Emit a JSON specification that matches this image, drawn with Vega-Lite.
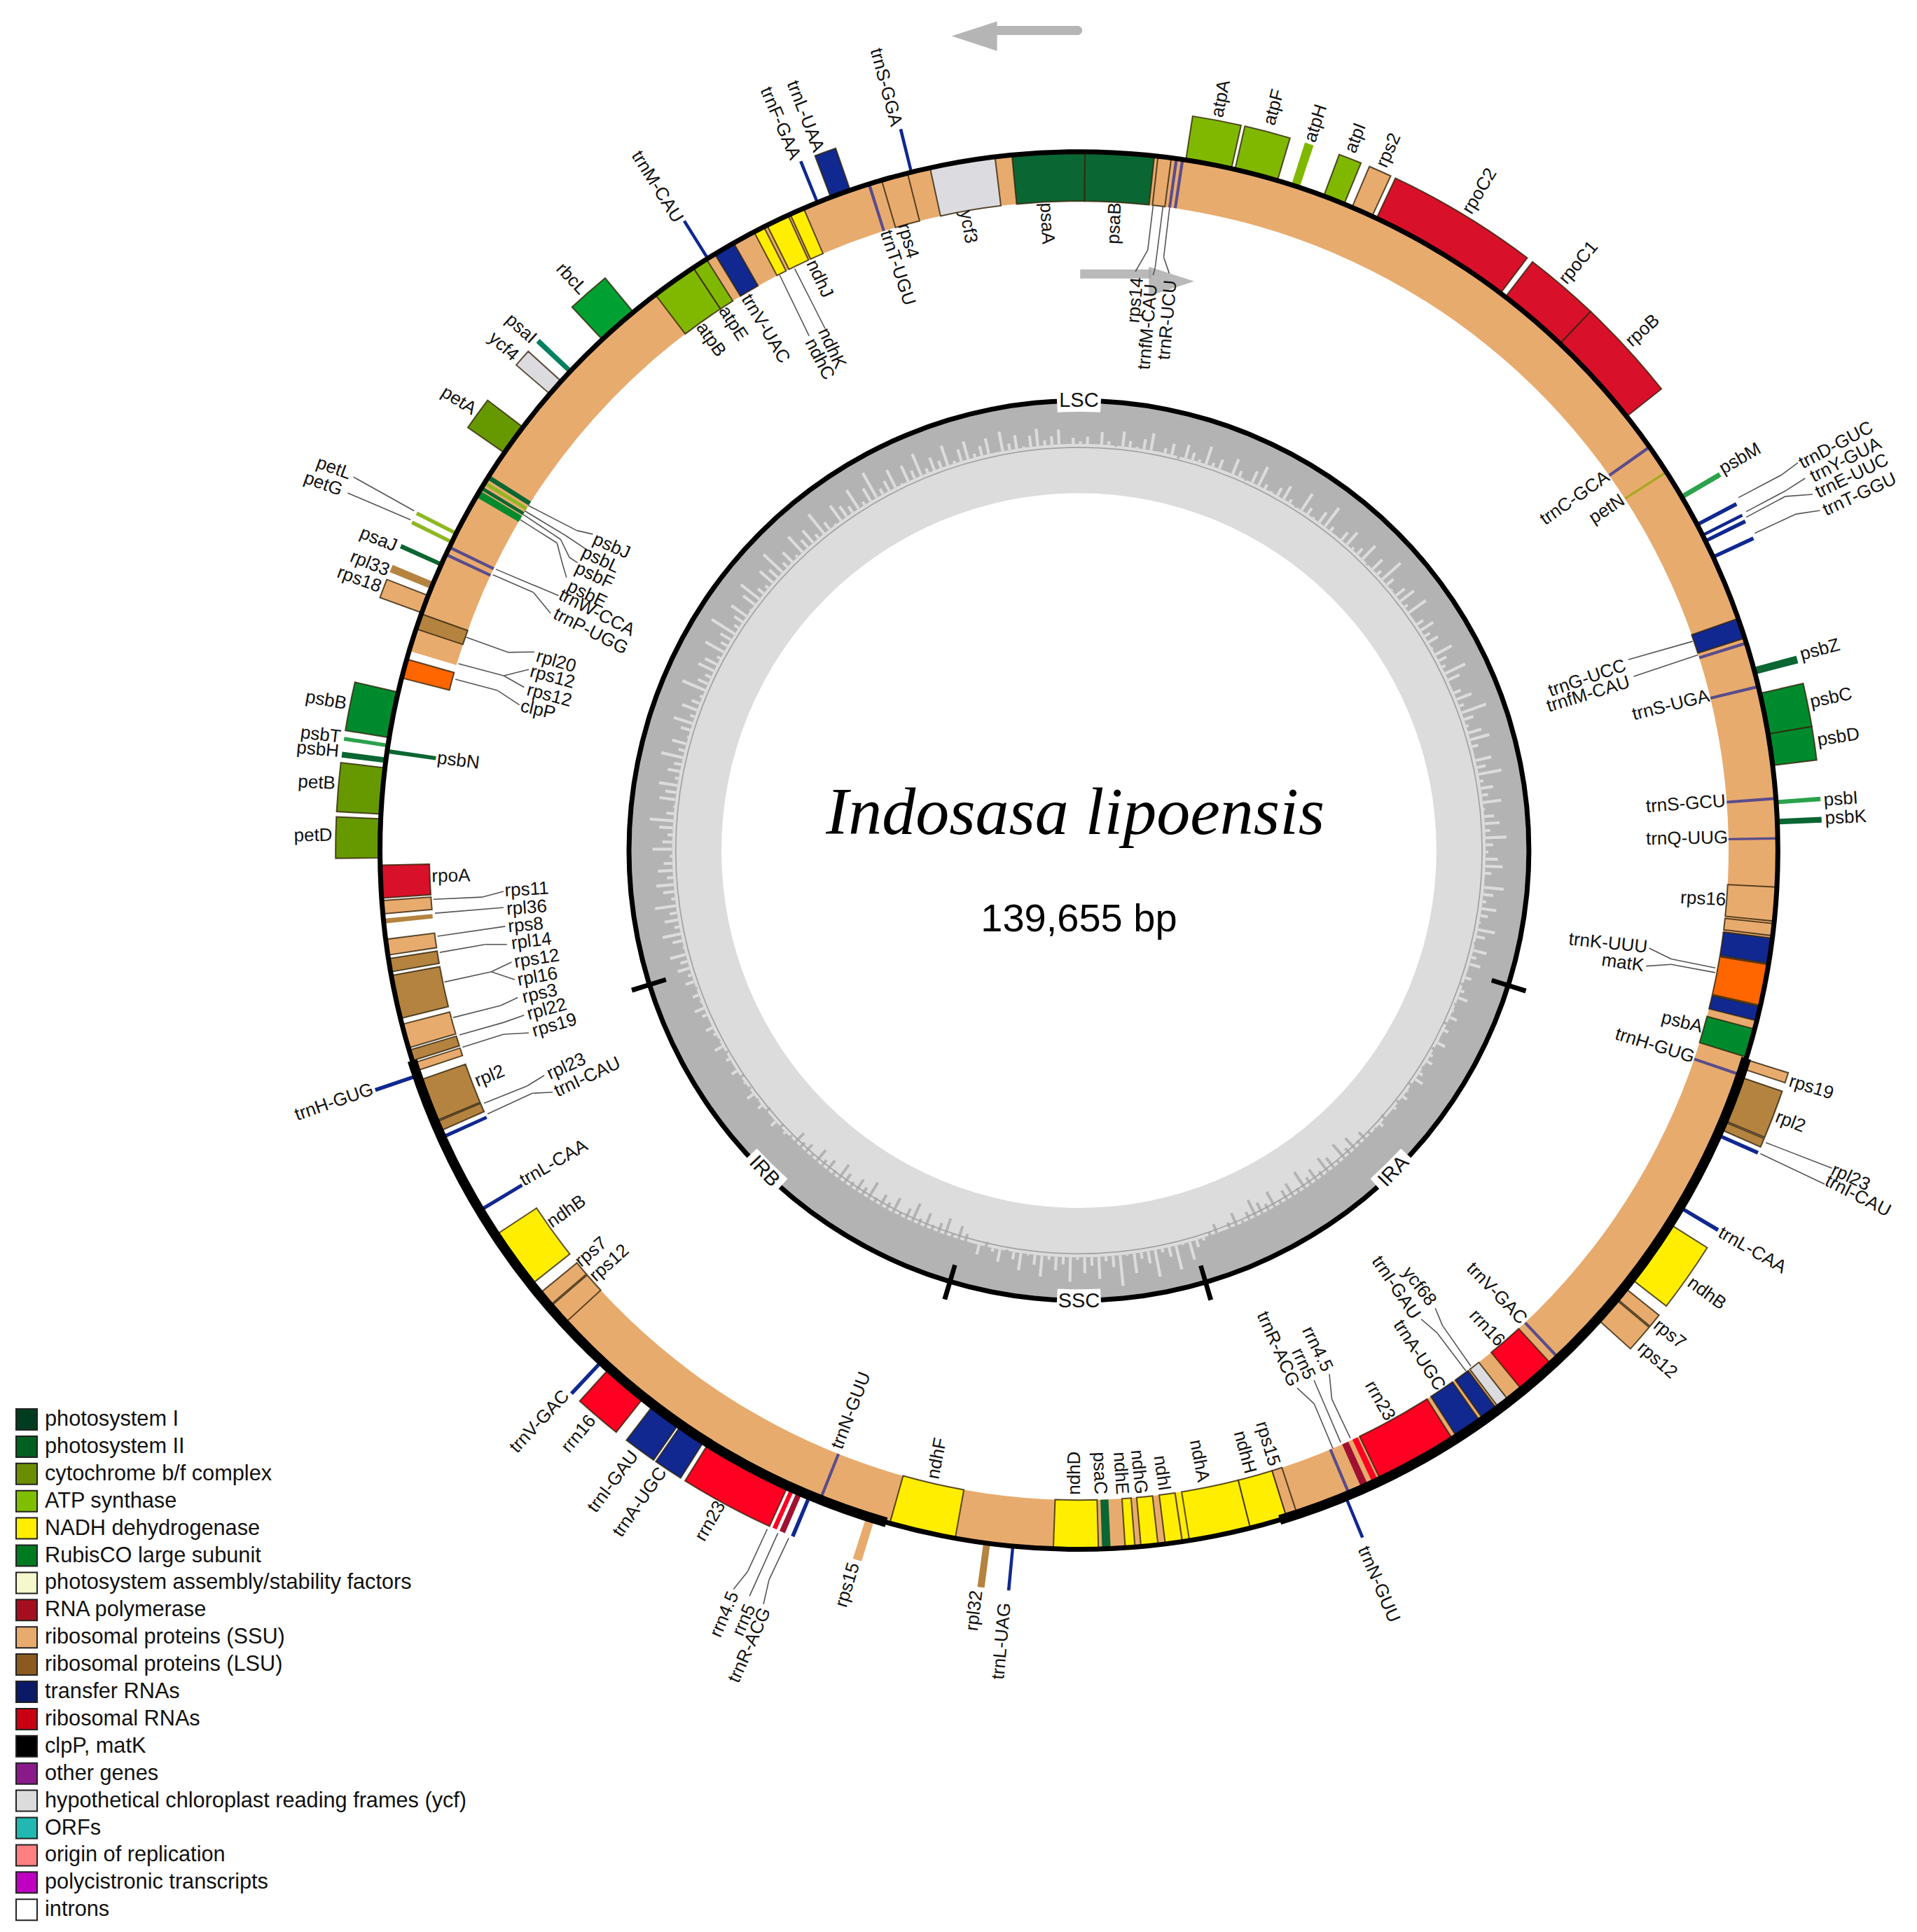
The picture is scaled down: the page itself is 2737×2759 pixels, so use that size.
{"$schema":"https://vega.github.io/schema/vega-lite/v6.json","width":2737,"height":2759,"padding":0,"autosize":{"type":"none"},"background":"white","config":{"view":{"stroke":null},"axis":{"disable":true}},
"datasets":{
"disc":[{"group":"light","a":0,"b":360,"r0":290,"r1":363},{"group":"dark","a":0,"b":360,"r0":330,"r1":363}],
"rings":[{"group":"mid","a":0,"b":360,"r0":326.6,"r1":327.6},{"group":"black","a":0,"b":360,"r0":363,"r1":367},{"group":"black","a":107.15,"b":107.75,"r0":351,"r1":380},{"group":"black","a":252.35,"b":252.95,"r0":351,"r1":380},{"group":"black","a":163.35,"b":163.95,"r0":351,"r1":380},{"group":"black","a":196.35,"b":196.95,"r0":351,"r1":380},{"group":"white","a":357.2,"b":362.8,"r0":356,"r1":374},{"group":"white","a":177.2,"b":182.8,"r0":356,"r1":374},{"group":"white","a":132.8,"b":138.4,"r0":356,"r1":374},{"group":"white","a":221.6,"b":227.2,"r0":356,"r1":374},{"group":"tan","a":286.6,"b":360,"r0":527,"r1":566},{"group":"tan","a":0,"b":227.4,"r0":527,"r1":566}],
"outline":[{"group":"black","a":0,"b":360,"r0":565,"r1":569},{"group":"black","a":107.3,"b":163.3,"r0":563,"r1":571},{"group":"black","a":196,"b":252.5,"r0":563,"r1":571}],
"gc":[{"a":0,"b":0.4,"g":332},{"a":1,"b":1.4,"g":336},{"a":2,"b":2.4,"g":330},{"a":3,"b":3.4,"g":340},{"a":4,"b":4.4,"g":333},{"a":5,"b":5.4,"g":329},{"a":6,"b":6.4,"g":342},{"a":7,"b":7.4,"g":335},{"a":8,"b":8.4,"g":331},{"a":9,"b":9.4,"g":338},{"a":10,"b":10.4,"g":344},{"a":11,"b":11.4,"g":330},{"a":12,"b":12.4,"g":334},{"a":13,"b":13.4,"g":339},{"a":14,"b":14.4,"g":328},{"a":15,"b":15.4,"g":341},{"a":16,"b":16.4,"g":336},{"a":17,"b":17.4,"g":332},{"a":18,"b":18.4,"g":345},{"a":19,"b":19.4,"g":333},{"a":20,"b":20.4,"g":338},{"a":21,"b":21.4,"g":330},{"a":22,"b":22.4,"g":343},{"a":23,"b":23.4,"g":335},{"a":24,"b":24.4,"g":329},{"a":25,"b":25.4,"g":340},{"a":26,"b":26.4,"g":347},{"a":27,"b":27.4,"g":334},{"a":28,"b":28.4,"g":331},{"a":29,"b":29.4,"g":337},{"a":30,"b":30.4,"g":342},{"a":31,"b":31.4,"g":333},{"a":32,"b":32.4,"g":329},{"a":33,"b":33.4,"g":346},{"a":34,"b":34.4,"g":336},{"a":35,"b":35.4,"g":331},{"a":36,"b":36.4,"g":340},{"a":37,"b":37.4,"g":349},{"a":38,"b":38.4,"g":334},{"a":39,"b":39.4,"g":330},{"a":40,"b":40.4,"g":338},{"a":41,"b":41.4,"g":343},{"a":42,"b":42.4,"g":332},{"a":43,"b":43.4,"g":336},{"a":44,"b":44.4,"g":345},{"a":45,"b":45.4,"g":329},{"a":46,"b":46.4,"g":341},{"a":47,"b":47.4,"g":334},{"a":48,"b":48.4,"g":350},{"a":49,"b":49.4,"g":337},{"a":50,"b":50.4,"g":331},{"a":51,"b":51.4,"g":339},{"a":52,"b":52.4,"g":344},{"a":53,"b":53.4,"g":333},{"a":54,"b":54.4,"g":347},{"a":55,"b":55.4,"g":330},{"a":56,"b":56.4,"g":336},{"a":57,"b":57.4,"g":342},{"a":58,"b":58.4,"g":335},{"a":59,"b":59.4,"g":339},{"a":60,"b":60.4,"g":331},{"a":61,"b":61.4,"g":345},{"a":62,"b":62.4,"g":337},{"a":63,"b":63.4,"g":333},{"a":64,"b":64.4,"g":348},{"a":65,"b":65.4,"g":340},{"a":66,"b":66.4,"g":330},{"a":67,"b":67.4,"g":336},{"a":68,"b":68.4,"g":343},{"a":69,"b":69.4,"g":334},{"a":70,"b":70.4,"g":351},{"a":71,"b":71.4,"g":338},{"a":72,"b":72.4,"g":332},{"a":73,"b":73.4,"g":341},{"a":74,"b":74.4,"g":346},{"a":75,"b":75.4,"g":335},{"a":76,"b":76.4,"g":330},{"a":77,"b":77.4,"g":343},{"a":78,"b":78.4,"g":337},{"a":79,"b":79.4,"g":349},{"a":80,"b":80.4,"g":333},{"a":81,"b":81.4,"g":340},{"a":82,"b":82.4,"g":335},{"a":83,"b":83.4,"g":345},{"a":84,"b":84.4,"g":331},{"a":85,"b":85.4,"g":338},{"a":86,"b":86.4,"g":342},{"a":87,"b":87.4,"g":334},{"a":88,"b":88.4,"g":347},{"a":89,"b":89.4,"g":336},{"a":90,"b":90.4,"g":332},{"a":91,"b":91.4,"g":340},{"a":92,"b":92.4,"g":344},{"a":93,"b":93.4,"g":335},{"a":94,"b":94.4,"g":330},{"a":95,"b":95.4,"g":346},{"a":96,"b":96.4,"g":338},{"a":97,"b":97.4,"g":333},{"a":98,"b":98.4,"g":342},{"a":99,"b":99.4,"g":336},{"a":100,"b":100.4,"g":331},{"a":101,"b":101.4,"g":344},{"a":102,"b":102.4,"g":337},{"a":103,"b":103.4,"g":329},{"a":104,"b":104.4,"g":341},{"a":105,"b":105.4,"g":334},{"a":106,"b":106.4,"g":339},{"a":107,"b":107.4,"g":330},{"a":108,"b":108.4,"g":335},{"a":109,"b":109.4,"g":328},{"a":110,"b":110.4,"g":333},{"a":111,"b":111.4,"g":338},{"a":112,"b":112.4,"g":329},{"a":113,"b":113.4,"g":331},{"a":114,"b":114.4,"g":336},{"a":115,"b":115.4,"g":327},{"a":116,"b":116.4,"g":334},{"a":117,"b":117.4,"g":330},{"a":118,"b":118.4,"g":337},{"a":119,"b":119.4,"g":328},{"a":120,"b":120.4,"g":332},{"a":121,"b":121.4,"g":335},{"a":122,"b":122.4,"g":329},{"a":123,"b":123.4,"g":333},{"a":124,"b":124.4,"g":337},{"a":125,"b":125.4,"g":327},{"a":126,"b":126.4,"g":331},{"a":127,"b":127.4,"g":334},{"a":128,"b":128.4,"g":328},{"a":129,"b":129.4,"g":332},{"a":130,"b":130.4,"g":330},{"a":131,"b":131.4,"g":326},{"a":132,"b":132.4,"g":333},{"a":133,"b":133.4,"g":329},{"a":134,"b":134.4,"g":327},{"a":135,"b":135.4,"g":322},{"a":136,"b":136.4,"g":326},{"a":137,"b":137.4,"g":318},{"a":138,"b":138.4,"g":324},{"a":139,"b":139.4,"g":315},{"a":140,"b":140.4,"g":327},{"a":141,"b":141.4,"g":320},{"a":142,"b":142.4,"g":316},{"a":143,"b":143.4,"g":325},{"a":144,"b":144.4,"g":319},{"a":145,"b":145.4,"g":323},{"a":146,"b":146.4,"g":314},{"a":147,"b":147.4,"g":326},{"a":148,"b":148.4,"g":318},{"a":149,"b":149.4,"g":321},{"a":150,"b":150.4,"g":327},{"a":151,"b":151.4,"g":316},{"a":152,"b":152.4,"g":324},{"a":153,"b":153.4,"g":320},{"a":154,"b":154.4,"g":315},{"a":155,"b":155.4,"g":323},{"a":156,"b":156.4,"g":328},{"a":157,"b":157.4,"g":319},{"a":158,"b":158.4,"g":325},{"a":159,"b":159.4,"g":330},{"a":160,"b":160.4,"g":322},{"a":161,"b":161.4,"g":327},{"a":162,"b":162.4,"g":332},{"a":163,"b":163.4,"g":336},{"a":164,"b":164.4,"g":345},{"a":165,"b":165.4,"g":331},{"a":166,"b":166.4,"g":350},{"a":167,"b":167.4,"g":338},{"a":168,"b":168.4,"g":333},{"a":169,"b":169.4,"g":352},{"a":170,"b":170.4,"g":340},{"a":171,"b":171.4,"g":335},{"a":172,"b":172.4,"g":346},{"a":173,"b":173.4,"g":331},{"a":174,"b":174.4,"g":355},{"a":175,"b":175.4,"g":339},{"a":176,"b":176.4,"g":334},{"a":177,"b":177.4,"g":348},{"a":178,"b":178.4,"g":337},{"a":179,"b":179.4,"g":343},{"a":180,"b":180.4,"g":332},{"a":181,"b":181.4,"g":350},{"a":182,"b":182.4,"g":336},{"a":183,"b":183.4,"g":341},{"a":184,"b":184.4,"g":333},{"a":185,"b":185.4,"g":347},{"a":186,"b":186.4,"g":338},{"a":187,"b":187.4,"g":331},{"a":188,"b":188.4,"g":344},{"a":189,"b":189.4,"g":336},{"a":190,"b":190.4,"g":329},{"a":191,"b":191.4,"g":340},{"a":192,"b":192.4,"g":333},{"a":193,"b":193.4,"g":326},{"a":194,"b":194.4,"g":338},{"a":195,"b":195.4,"g":330},{"a":196,"b":196.4,"g":324},{"a":197,"b":197.4,"g":319},{"a":198,"b":198.4,"g":327},{"a":199,"b":199.4,"g":316},{"a":200,"b":200.4,"g":322},{"a":201,"b":201.4,"g":326},{"a":202,"b":202.4,"g":318},{"a":203,"b":203.4,"g":325},{"a":204,"b":204.4,"g":314},{"a":205,"b":205.4,"g":321},{"a":206,"b":206.4,"g":327},{"a":207,"b":207.4,"g":317},{"a":208,"b":208.4,"g":324},{"a":209,"b":209.4,"g":320},{"a":210,"b":210.4,"g":326},{"a":211,"b":211.4,"g":315},{"a":212,"b":212.4,"g":323},{"a":213,"b":213.4,"g":319},{"a":214,"b":214.4,"g":325},{"a":215,"b":215.4,"g":321},{"a":216,"b":216.4,"g":316},{"a":217,"b":217.4,"g":326},{"a":218,"b":218.4,"g":320},{"a":219,"b":219.4,"g":324},{"a":220,"b":220.4,"g":318},{"a":221,"b":221.4,"g":327},{"a":222,"b":222.4,"g":322},{"a":223,"b":223.4,"g":325},{"a":224,"b":224.4,"g":320},{"a":225,"b":225.4,"g":328},{"a":226,"b":226.4,"g":332},{"a":227,"b":227.4,"g":327},{"a":228,"b":228.4,"g":335},{"a":229,"b":229.4,"g":330},{"a":230,"b":230.4,"g":326},{"a":231,"b":231.4,"g":334},{"a":232,"b":232.4,"g":329},{"a":233,"b":233.4,"g":336},{"a":234,"b":234.4,"g":328},{"a":235,"b":235.4,"g":331},{"a":236,"b":236.4,"g":327},{"a":237,"b":237.4,"g":335},{"a":238,"b":238.4,"g":330},{"a":239,"b":239.4,"g":333},{"a":240,"b":240.4,"g":328},{"a":241,"b":241.4,"g":337},{"a":242,"b":242.4,"g":329},{"a":243,"b":243.4,"g":332},{"a":244,"b":244.4,"g":336},{"a":245,"b":245.4,"g":330},{"a":246,"b":246.4,"g":334},{"a":247,"b":247.4,"g":338},{"a":248,"b":248.4,"g":331},{"a":249,"b":249.4,"g":335},{"a":250,"b":250.4,"g":329},{"a":251,"b":251.4,"g":337},{"a":252,"b":252.4,"g":333},{"a":253,"b":253.4,"g":340},{"a":254,"b":254.4,"g":336},{"a":255,"b":255.4,"g":343},{"a":256,"b":256.4,"g":331},{"a":257,"b":257.4,"g":338},{"a":258,"b":258.4,"g":345},{"a":259,"b":259.4,"g":334},{"a":260,"b":260.4,"g":341},{"a":261,"b":261.4,"g":336},{"a":262,"b":262.4,"g":347},{"a":263,"b":263.4,"g":333},{"a":264,"b":264.4,"g":339},{"a":265,"b":265.4,"g":344},{"a":266,"b":266.4,"g":335},{"a":267,"b":267.4,"g":342},{"a":268,"b":268.4,"g":337},{"a":269,"b":269.4,"g":332},{"a":270,"b":270.4,"g":346},{"a":271,"b":271.4,"g":338},{"a":272,"b":272.4,"g":334},{"a":273,"b":273.4,"g":341},{"a":274,"b":274.4,"g":349},{"a":275,"b":275.4,"g":336},{"a":276,"b":276.4,"g":331},{"a":277,"b":277.4,"g":343},{"a":278,"b":278.4,"g":339},{"a":279,"b":279.4,"g":345},{"a":280,"b":280.4,"g":333},{"a":281,"b":281.4,"g":340},{"a":282,"b":282.4,"g":336},{"a":283,"b":283.4,"g":348},{"a":284,"b":284.4,"g":335},{"a":285,"b":285.4,"g":342},{"a":286,"b":286.4,"g":331},{"a":287,"b":287.4,"g":338},{"a":288,"b":288.4,"g":346},{"a":289,"b":289.4,"g":334},{"a":290,"b":290.4,"g":343},{"a":291,"b":291.4,"g":337},{"a":292,"b":292.4,"g":332},{"a":293,"b":293.4,"g":350},{"a":294,"b":294.4,"g":339},{"a":295,"b":295.4,"g":335},{"a":296,"b":296.4,"g":344},{"a":297,"b":297.4,"g":341},{"a":298,"b":298.4,"g":333},{"a":299,"b":299.4,"g":347},{"a":300,"b":300.4,"g":336},{"a":301,"b":301.4,"g":340},{"a":302,"b":302.4,"g":352},{"a":303,"b":303.4,"g":334},{"a":304,"b":304.4,"g":338},{"a":305,"b":305.4,"g":345},{"a":306,"b":306.4,"g":331},{"a":307,"b":307.4,"g":342},{"a":308,"b":308.4,"g":349},{"a":309,"b":309.4,"g":336},{"a":310,"b":310.4,"g":333},{"a":311,"b":311.4,"g":344},{"a":312,"b":312.4,"g":339},{"a":313,"b":313.4,"g":351},{"a":314,"b":314.4,"g":335},{"a":315,"b":315.4,"g":341},{"a":316,"b":316.4,"g":332},{"a":317,"b":317.4,"g":347},{"a":318,"b":318.4,"g":338},{"a":319,"b":319.4,"g":343},{"a":320,"b":320.4,"g":334},{"a":321,"b":321.4,"g":350},{"a":322,"b":322.4,"g":337},{"a":323,"b":323.4,"g":331},{"a":324,"b":324.4,"g":345},{"a":325,"b":325.4,"g":340},{"a":326,"b":326.4,"g":336},{"a":327,"b":327.4,"g":348},{"a":328,"b":328.4,"g":333},{"a":329,"b":329.4,"g":342},{"a":330,"b":330.4,"g":353},{"a":331,"b":331.4,"g":335},{"a":332,"b":332.4,"g":339},{"a":333,"b":333.4,"g":346},{"a":334,"b":334.4,"g":331},{"a":335,"b":335.4,"g":344},{"a":336,"b":336.4,"g":337},{"a":337,"b":337.4,"g":349},{"a":338,"b":338.4,"g":334},{"a":339,"b":339.4,"g":341},{"a":340,"b":340.4,"g":336},{"a":341,"b":341.4,"g":347},{"a":342,"b":342.4,"g":332},{"a":343,"b":343.4,"g":340},{"a":344,"b":344.4,"g":345},{"a":345,"b":345.4,"g":333},{"a":346,"b":346.4,"g":338},{"a":347,"b":347.4,"g":343},{"a":348,"b":348.4,"g":330},{"a":349,"b":349.4,"g":346},{"a":350,"b":350.4,"g":335},{"a":351,"b":351.4,"g":341},{"a":352,"b":352.4,"g":331},{"a":353,"b":353.4,"g":339},{"a":354,"b":354.4,"g":344},{"a":355,"b":355.4,"g":334},{"a":356,"b":356.4,"g":337},{"a":357,"b":357.4,"g":342},{"a":358,"b":358.4,"g":330},{"a":359,"b":359.4,"g":335}],
"genes":[
{"gene":"psaA","side":"in","group":"PSI","a":354.5,"b":360.5},{"gene":"psaB","side":"in","group":"PSI","a":0.5,"b":6.2},{"gene":"rps14","side":"in","group":"SSU","a":6.5,"b":7.6},{"gene":"trnfM-CAU","side":"in","group":"tin","a":7.9,"b":8.15},{"gene":"trnR-UCU","side":"in","group":"tin","a":8.4,"b":8.65},{"gene":"ycf3","side":"in","group":"ycf","a":347.7,"b":353.1},{"gene":"rps4","side":"in","group":"SSU","a":343.6,"b":345.8},{"gene":"trnT-UGU","side":"in","group":"tin","a":342.4,"b":342.65},{"gene":"ndhC","side":"in","group":"NADH","a":332.3,"b":333.2},{"gene":"ndhK","side":"in","group":"NADH","a":333.5,"b":335.4},{"gene":"ndhJ","side":"in","group":"NADH","a":335.6,"b":336.8},{"gene":"trnV-UAC","side":"in","group":"tRNA","a":328.6,"b":330.4},{"gene":"atpE","side":"in","group":"ATP","a":326.5,"b":327.8},{"gene":"atpB","side":"in","group":"ATP","a":322.7,"b":326.5},{"gene":"psbJ","side":"in","group":"PSI","a":302.1,"b":302.5},{"gene":"psbL","side":"in","group":"pl","a":301.6,"b":301.9},{"gene":"psbF","side":"in","group":"PSI","a":301.1,"b":301.4},{"gene":"psbE","side":"in","group":"PSII","a":300.4,"b":301},{"gene":"trnW-CCA","side":"in","group":"tin","a":295.6,"b":295.85},{"gene":"trnP-UGG","side":"in","group":"tin","a":294.95,"b":295.2},{"gene":"rpl20","side":"in","group":"LSU","a":288.5,"b":289.8},{"gene":"clpP","side":"in","group":"clp","a":284.3,"b":285.9},{"gene":"psbN","side":"in","group":"PSI","a":278,"b":278.35},{"gene":"rpoA","side":"in","group":"RNAP","a":266.1,"b":268.8},{"gene":"rps11","side":"in","group":"SSU","a":264.8,"b":265.9},{"gene":"rpl36","side":"in","group":"LSU","a":264,"b":264.4},{"gene":"rps8","side":"in","group":"SSU","a":261.4,"b":262.7},{"gene":"rpl14","side":"in","group":"LSU","a":260,"b":261.1},{"gene":"rpl16","side":"in","group":"LSU","a":256.1,"b":259.7},{"gene":"rps3","side":"in","group":"SSU","a":253.6,"b":255.6},{"gene":"rpl22","side":"in","group":"LSU","a":252.5,"b":253.4},{"gene":"rps19","side":"in","group":"SSU","a":251.6,"b":252.3},{"gene":"rpl2","side":"in","group":"LSU","a":247.2,"b":250.8},{"gene":"rpl23","side":"in","group":"LSU","a":246.3,"b":247.1},{"gene":"trnI-CAU","side":"in","group":"tRNA","a":245.6,"b":245.9},{"gene":"trnL-CAA","side":"in","group":"tRNA","a":238.85,"b":239.15},{"gene":"ndhB","side":"in","group":"NADH","a":231.6,"b":236.6},{"gene":"rps7","side":"in","group":"SSU","a":229.3,"b":230.6},{"gene":"rps12","side":"in","group":"SSU","a":227.4,"b":229.2},{"gene":"trnN-GUU","side":"in","group":"tin","a":201.6,"b":201.85},{"gene":"ndhF","side":"in","group":"NADH","a":190.2,"b":195.7},{"gene":"ndhD","side":"in","group":"NADH","a":178.4,"b":182.1},{"gene":"psaC","side":"in","group":"PSI","a":177.4,"b":178.1},{"gene":"ndhE","side":"in","group":"NADH","a":175.4,"b":176.2},{"gene":"ndhG","side":"in","group":"NADH","a":173.5,"b":174.9},{"gene":"ndhI","side":"in","group":"NADH","a":171.5,"b":172.9},{"gene":"ndhA","side":"in","group":"NADH","a":170.9,"b":171.4},{"gene":"ndhA","side":"in","group":"NADH","a":165.8,"b":170.9},{"gene":"ndhH","side":"in","group":"NADH","a":162.7,"b":165.8},{"gene":"rps15","side":"in","group":"SSU","a":161.8,"b":162.7},{"gene":"trnR-ACG","side":"in","group":"tin","a":157.1,"b":157.35},{"gene":"rrn5","side":"in","group":"r5","a":155.5,"b":156.1},{"gene":"rrn4.5","side":"in","group":"rRNA","a":154.6,"b":155.1},{"gene":"rrn23","side":"in","group":"rRNA","a":147.6,"b":154.4},{"gene":"trnA-UGC","side":"in","group":"tRNA","a":144.9,"b":147.2},{"gene":"trnI-GAU","side":"in","group":"tRNA","a":143.2,"b":144.6},{"gene":"ycf68","side":"in","group":"ycf","a":142,"b":143},{"gene":"rrn16","side":"in","group":"rRNA","a":137.4,"b":140.6},{"gene":"trnV-GAC","side":"in","group":"tin","a":136.5,"b":136.75},{"gene":"trnH-GUG","side":"in","group":"tin","a":108.6,"b":108.85},{"gene":"psbA","side":"in","group":"PSII","a":104.8,"b":107.2},{"gene":"trnK-UUU","side":"in","group":"tRNA","a":102.9,"b":104.1},{"gene":"matK","side":"in","group":"clp","a":99.4,"b":102.8},{"gene":"trnK-UUU","side":"in","group":"tRNA","a":97.2,"b":99.3},{"gene":"rps16","side":"in","group":"SSU","a":96,"b":97},{"gene":"rps16","side":"in","group":"SSU","a":93,"b":95.8},{"gene":"trnQ-UUG","side":"in","group":"tin","a":88.9,"b":89.1},{"gene":"trnS-GCU","side":"in","group":"tin","a":85.6,"b":85.85},{"gene":"trnS-UGA","side":"in","group":"tin","a":76.3,"b":76.55},{"gene":"trnfM-CAU","side":"in","group":"tin","a":72.6,"b":72.85},{"gene":"trnG-UCC","side":"in","group":"tRNA","a":70.6,"b":72.3},{"gene":"trnC-GCA","side":"in","group":"tin","a":54.6,"b":54.85},{"gene":"petN","side":"in","group":"pn","a":57.1,"b":57.3},
{"gene":"atpA","side":"out","group":"ATP","a":8.8,"b":12.6},{"gene":"atpF","side":"out","group":"ATP","a":12.9,"b":16.5},{"gene":"atpH","side":"out","group":"ATP","a":17.7,"b":18.4},{"gene":"atpI","side":"out","group":"ATP","a":20.5,"b":22.3},{"gene":"rps2","side":"out","group":"SSU","a":23,"b":24.8},{"gene":"rpoC2","side":"out","group":"RNAP","a":25.2,"b":37.1},{"gene":"rpoC1","side":"out","group":"RNAP","a":37.6,"b":43.5},{"gene":"rpoB","side":"out","group":"RNAP","a":43.5,"b":51.6},{"gene":"psbM","side":"out","group":"psl","a":59.4,"b":59.8},{"gene":"trnD-GUC","side":"out","group":"tRNA","a":62.05,"b":62.35},{"gene":"trnY-GUA","side":"out","group":"tRNA","a":63.05,"b":63.3},{"gene":"trnE-UUC","side":"out","group":"tRNA","a":63.55,"b":63.85},{"gene":"trnT-GGU","side":"out","group":"tRNA","a":65,"b":65.3},{"gene":"psbZ","side":"out","group":"PSI","a":74.8,"b":75.4},{"gene":"psbC","side":"out","group":"PSII","a":77,"b":80.4},{"gene":"psbD","side":"out","group":"PSII","a":80.4,"b":83},{"gene":"psbI","side":"out","group":"psl","a":85.85,"b":86.2},{"gene":"psbK","side":"out","group":"PSI","a":87.4,"b":87.85},{"gene":"rps19","side":"out","group":"SSU","a":107.4,"b":108.2},{"gene":"rpl2","side":"out","group":"LSU","a":108.9,"b":112.7},{"gene":"rpl23","side":"out","group":"LSU","a":112.8,"b":113.5},{"gene":"trnI-CAU","side":"out","group":"tRNA","a":113.85,"b":114.15},{"gene":"trnL-CAA","side":"out","group":"tRNA","a":120.55,"b":120.85},{"gene":"ndhB","side":"out","group":"NADH","a":122.3,"b":127.8},{"gene":"rps7","side":"out","group":"SSU","a":128.7,"b":129.8},{"gene":"rps12","side":"out","group":"SSU","a":129.9,"b":132.1},{"gene":"trnN-GUU","side":"out","group":"tRNA","a":157.45,"b":157.7},{"gene":"trnL-UAG","side":"out","group":"tRNA","a":185.3,"b":185.55},{"gene":"rpl32","side":"out","group":"LSU","a":187.3,"b":187.85},{"gene":"rps15","side":"out","group":"SSU","a":197,"b":197.7},{"gene":"trnR-ACG","side":"out","group":"tRNA","a":202.5,"b":202.8},{"gene":"rrn5","side":"out","group":"r5","a":203.3,"b":203.75},{"gene":"rrn4.5","side":"out","group":"rRNA","a":204,"b":204.35},{"gene":"rrn23","side":"out","group":"rRNA","a":204.6,"b":212},{"gene":"trnA-UGC","side":"out","group":"tRNA","a":212.4,"b":214.7},{"gene":"trnI-GAU","side":"out","group":"tRNA","a":214.9,"b":217.5},{"gene":"rrn16","side":"out","group":"rRNA","a":218.5,"b":222.2},{"gene":"trnV-GAC","side":"out","group":"tRNA","a":222.9,"b":223.2},{"gene":"trnH-GUG","side":"out","group":"tRNA","a":251.05,"b":251.35},{"gene":"petD","side":"out","group":"cyt","a":269.4,"b":272.6},{"gene":"petB","side":"out","group":"cyt","a":273,"b":276.8},{"gene":"psbH","side":"out","group":"PSI","a":277.2,"b":277.65},{"gene":"psbT","side":"out","group":"psl","a":278.5,"b":278.8},{"gene":"psbB","side":"out","group":"PSII","a":279.3,"b":283.1},{"gene":"rps18","side":"out","group":"SSU","a":289.9,"b":291.4},{"gene":"rpl33","side":"out","group":"LSU","a":292,"b":292.6},{"gene":"psaJ","side":"out","group":"PSI","a":294,"b":294.35},{"gene":"petG","side":"out","group":"pl","a":296.05,"b":296.35},{"gene":"petL","side":"out","group":"pl","a":296.85,"b":297.15},{"gene":"petA","side":"out","group":"cyt","a":304.7,"b":307.3},{"gene":"ycf4","side":"out","group":"ycf","a":310.8,"b":312.2},{"gene":"psaI","side":"out","group":"pa","a":313.1,"b":313.5},{"gene":"rbcL","side":"out","group":"Rub","a":317,"b":320.4},{"gene":"trnM-CAU","side":"out","group":"tRNA","a":327.8,"b":328.05},{"gene":"trnF-GAA","side":"out","group":"tRNA","a":337.9,"b":338.15},{"gene":"trnL-UAA","side":"out","group":"tRNA","a":339.2,"b":340.9},{"gene":"trnS-GGA","side":"out","group":"tRNA","a":346,"b":346.25}],
"leaders":[
{"x":1414.7,"y":405,"x2":1450,"y2":386.4},{"x":1450,"y":386.4,"x2":1463,"y2":376.7},{"x":1421,"y":416.4,"x2":1453,"y2":399.5},{"x":1453,"y":399.5,"x2":1469,"y2":389.3},{"x":1421,"y":421,"x2":1453,"y2":404},{"x":1453,"y":404,"x2":1475,"y2":402.4},{"x":1428,"y":434,"x2":1461.6,"y2":418.4},{"x":1461.6,"y":418.4,"x2":1481,"y2":415.5},{"x":1377.4,"y":522,"x2":1325,"y2":536.9},{"x":1381.8,"y":533,"x2":1329.4,"y2":550.6},{"x":1396,"y":787.8,"x2":1360,"y2":780.5},{"x":1360,"y":780.5,"x2":1342,"y2":771.7},{"x":1395.7,"y":791.6,"x2":1360,"y2":785},{"x":1360,"y":785,"x2":1339.6,"y2":786.3},{"x":1437,"y":930,"x2":1490.8,"y2":950.8},{"x":1432.6,"y":939,"x2":1484.8,"y2":963.8},{"x":1197,"y":1112,"x2":1173.9,"y2":1079},{"x":1173.9,"y":1079,"x2":1168,"y2":1064.8},{"x":1192.9,"y":1115.8,"x2":1169.6,"y2":1085},{"x":1169.6,"y":1085,"x2":1156.6,"y2":1073.7},{"x":1098.8,"y":1170.5,"x2":1083.8,"y2":1138.7},{"x":1083.8,"y":1138.7,"x2":1081.8,"y2":1118.4},{"x":1091,"y":1174,"x2":1069.3,"y2":1123.4},{"x":1084.7,"y":1179,"x2":1069.4,"y2":1142.5},{"x":1069.4,"y":1142.5,"x2":1055.6,"y2":1129.7},{"x":624.4,"y":1244.5,"x2":608.3,"y2":1279.3},{"x":608.3,"y":1279.3,"x2":596.9,"y2":1293.5},{"x":633,"y":1247.8,"x2":610,"y2":1299},{"x":641.8,"y":1252,"x2":625.8,"y2":1285.9},{"x":625.8,"y":1285.9,"x2":621.3,"y2":1305.6},{"x":393.9,"y":898,"x2":428.8,"y2":884},{"x":428.8,"y":884,"x2":442.9,"y2":875.3},{"x":396.8,"y":906.7,"x2":433.2,"y2":889.8},{"x":433.2,"y":889.8,"x2":449.7,"y2":889},{"x":352.7,"y":732,"x2":392.2,"y2":730.2},{"x":392.2,"y":730.2,"x2":409.8,"y2":725.6},{"x":354,"y":743.3,"x2":409.8,"y2":738.7},{"x":356,"y":762,"x2":411.2,"y2":754},{"x":357.8,"y":775.2,"x2":394.7,"y2":768.7},{"x":394.7,"y":768.7,"x2":412.5,"y2":768.7},{"x":361.6,"y":799.3,"x2":399.8,"y2":790.9},{"x":399.8,"y":790.9,"x2":416.3,"y2":783.1},{"x":399.8,"y":790.9,"x2":418.9,"y2":797.4},{"x":368.8,"y":828.2,"x2":407.4,"y2":818.5},{"x":407.4,"y":818.5,"x2":421.4,"y2":811.9},{"x":373.9,"y":842.4,"x2":409.8,"y2":832.2},{"x":409.8,"y":832.2,"x2":426.5,"y2":826.3},{"x":376.4,"y":852.4,"x2":409.8,"y2":841.8},{"x":409.8,"y":841.8,"x2":430.3,"y2":840.7},{"x":379.4,"y":518.7,"x2":413.8,"y2":531},{"x":413.8,"y":531,"x2":434.9,"y2":530.6},{"x":373,"y":540.2,"x2":410,"y2":550},{"x":410,"y":550,"x2":430.3,"y2":544.9},{"x":410,"y":550,"x2":426.5,"y2":559.4},{"x":370.6,"y":552.8,"x2":404.9,"y2":562},{"x":404.9,"y":562,"x2":422.7,"y2":573.7},{"x":403.5,"y":463.3,"x2":454.5,"y2":484.8},{"x":401,"y":467.8,"x2":434.1,"y2":482.2},{"x":434.1,"y":482.2,"x2":448,"y2":499.2},{"x":430,"y":411.5,"x2":469.4,"y2":431.8},{"x":469.4,"y":431.8,"x2":482.4,"y2":434.8},{"x":427,"y":415.8,"x2":460.5,"y2":436},{"x":460.5,"y":436,"x2":478,"y2":447.8},{"x":425.7,"y":418.7,"x2":456.2,"y2":439},{"x":456.2,"y":439,"x2":463.4,"y2":453.7},{"x":463.4,"y":453.7,"x2":470,"y2":458},{"x":423.4,"y":423,"x2":453.3,"y2":442},{"x":453.3,"y":442,"x2":458,"y2":460},{"x":458,"y":460,"x2":461,"y2":470},{"x":337,"y":415.8,"x2":287.6,"y2":388.2},{"x":334,"y":423,"x2":283,"y2":401.3},{"x":634.5,"y":224,"x2":658.4,"y2":273.4},{"x":646.7,"y":218.7,"x2":671.5,"y2":267.6},{"x":938.4,"y":167.2,"x2":934,"y2":203.5},{"x":934,"y":203.5,"x2":924,"y2":221},{"x":946.5,"y":167.2,"x2":940,"y2":218},{"x":940,"y":218,"x2":938.3,"y2":224},{"x":952,"y":167.2,"x2":947,"y2":209.4},{"x":947,"y":209.4,"x2":951.5,"y2":222.5}],
"labels":[
{"t":"atpA","x":993.5,"y":80.3,"rot":-79},{"t":"atpF","x":1036.6,"y":87.3,"rot":-75},{"t":"atpH","x":1070.7,"y":100.4,"rot":-72},{"t":"atpI","x":1103,"y":112.4,"rot":-69},{"t":"rps2","x":1130,"y":122.4,"rot":-66},{"t":"rpoC2","x":1204,"y":155.5,"rot":-59},{"t":"rpoC1","x":1284.5,"y":213.7,"rot":-50},{"t":"rpoB","x":1336.7,"y":269,"rot":-42},{"t":"psbM","x":1416,"y":373.3,"rot":-30},{"t":"trnD-GUC","x":1494,"y":362.3,"rot":-28},{"t":"trnY-GUA","x":1502,"y":374.3,"rot":-27},{"t":"trnE-UUC","x":1507,"y":387.4,"rot":-26},{"t":"trnT-GGU","x":1513.3,"y":402.4,"rot":-25},{"t":"psbZ","x":1481,"y":528.8,"rot":-15},{"t":"psbC","x":1490,"y":568,"rot":-12},{"t":"psbD","x":1496,"y":600,"rot":-9},{"t":"psbI","x":1498,"y":650.3,"rot":-4},{"t":"psbK","x":1502,"y":665.3,"rot":-3},
{"t":"trnC-GCA","x":1281.5,"y":405.4,"rot":-35},{"t":"petN","x":1307.6,"y":414.4,"rot":-33},{"t":"trnG-UCC","x":1291.5,"y":552,"rot":-19},{"t":"trnfM-CAU","x":1292.5,"y":565,"rot":-17},{"t":"trnS-UGA","x":1359.7,"y":574,"rot":-14},{"t":"trnS-GCU","x":1371.8,"y":654.3,"rot":-4},{"t":"trnQ-UUG","x":1372.8,"y":682.4,"rot":-1},{"t":"rps16","x":1386,"y":731.6,"rot":3},{"t":"trnK-UUU","x":1308.6,"y":767.7,"rot":6},{"t":"matK","x":1320.6,"y":783.7,"rot":8},{"t":"psbA","x":1368.8,"y":832,"rot":14},{"t":"trnH-GUG","x":1346.7,"y":851,"rot":17},
{"t":"rps19","x":1474,"y":885,"rot":17},{"t":"rpl2","x":1457,"y":913,"rot":21},{"t":"rpl23","x":1506,"y":958.3,"rot":25},{"t":"trnI-CAU","x":1512,"y":973.4,"rot":27},{"t":"trnL-CAA","x":1426,"y":1017.5,"rot":30},{"t":"ndhB","x":1389,"y":1052.7,"rot":36},{"t":"rps7","x":1358.7,"y":1085.8,"rot":39},{"t":"rps12","x":1348.7,"y":1107,"rot":41},
{"t":"trnV-GAC","x":1218,"y":1052.7,"rot":46},{"t":"rrn16","x":1210,"y":1080.8,"rot":47},{"t":"ycf68","x":1155,"y":1047,"rot":53},{"t":"trnI-GAU","x":1136,"y":1048,"rot":56},{"t":"trnA-UGC","x":1155,"y":1103,"rot":57},{"t":"rrn23","x":1123,"y":1140,"rot":60},{"t":"rrn4.5","x":1072,"y":1098,"rot":64},{"t":"rrn5","x":1060.6,"y":1110,"rot":65},{"t":"trnR-ACG","x":1040,"y":1098,"rot":66},{"t":"rps15","x":1031.7,"y":1175,"rot":73},{"t":"ndhH","x":1013,"y":1182,"rot":75},{"t":"ndhA","x":976,"y":1189,"rot":79},{"t":"ndhI","x":945.6,"y":1199,"rot":82},{"t":"ndhG","x":926.8,"y":1198,"rot":84},{"t":"ndhE","x":912,"y":1199,"rot":86},{"t":"psaC","x":894.9,"y":1199,"rot":88},{"t":"ndhD","x":874.5,"y":1199,"rot":-90},{"t":"ndhF","x":762.5,"y":1187,"rot":-79},{"t":"trnN-GUU","x":692.6,"y":1148,"rot":-69},
{"t":"trnN-GUU","x":1122,"y":1289.5,"rot":67},{"t":"trnL-UAG","x":815,"y":1335.7,"rot":-85},{"t":"rpl32","x":792.8,"y":1311,"rot":-83},{"t":"rps15","x":689.7,"y":1290,"rot":-73},{"t":"rrn4.5","x":589.6,"y":1314,"rot":-67},{"t":"rrn5","x":605.5,"y":1318.7,"rot":-66},{"t":"trnR-ACG","x":610,"y":1339,"rot":-66},{"t":"rrn23","x":578,"y":1238,"rot":-60},{"t":"trnA-UGC","x":520.6,"y":1222.6,"rot":-55},{"t":"trnI-GAU","x":498.9,"y":1205.8,"rot":-53},{"t":"rrn16","x":470.9,"y":1167,"rot":-50},{"t":"trnV-GAC","x":439,"y":1157,"rot":-47},{"t":"rps12","x":495.8,"y":1028,"rot":-42},{"t":"rps7","x":481,"y":1019,"rot":-40},{"t":"ndhB","x":460.9,"y":986,"rot":-35},{"t":"trnL-CAA","x":450.6,"y":946.5,"rot":-30},{"t":"trnH-GUG","x":271.9,"y":897,"rot":-19},{"t":"rpl2","x":398.4,"y":875.8,"rot":-22},{"t":"rpl23","x":460.9,"y":868,"rot":-24},{"t":"trnI-CAU","x":478,"y":876.6,"rot":-25},
{"t":"rpoA","x":367,"y":713,"rot":-1},{"t":"rps11","x":428.6,"y":724,"rot":-3},{"t":"rpl36","x":428.6,"y":738.8,"rot":-4},{"t":"rps8","x":427.8,"y":753,"rot":-5},{"t":"rpl14","x":432.4,"y":766,"rot":-7},{"t":"rps12","x":436.8,"y":780.3,"rot":-9},{"t":"rpl16","x":437.4,"y":795,"rot":-10},{"t":"rps3","x":439.2,"y":808.8,"rot":-13},{"t":"rpl22","x":445,"y":821.5,"rot":-15},{"t":"rps19","x":451.2,"y":834.4,"rot":-16},
{"t":"petD","x":254.8,"y":680,"rot":-1},{"t":"petB","x":257.7,"y":637,"rot":3},{"t":"psbN","x":373,"y":619,"rot":7},{"t":"psbH","x":258.6,"y":610,"rot":5},{"t":"psbT","x":261,"y":598,"rot":7},{"t":"psbB","x":265.4,"y":570,"rot":10},{"t":"clpP","x":437.8,"y":577.7,"rot":13},{"t":"rps12","x":447,"y":566,"rot":15},{"t":"rps12","x":449.5,"y":551,"rot":15},{"t":"rpl20","x":452.6,"y":538.4,"rot":16},{"t":"rps18","x":292.4,"y":471.6,"rot":20},{"t":"rpl33","x":301,"y":458.6,"rot":22},{"t":"psaJ","x":308,"y":439,"rot":22},{"t":"petG","x":263,"y":393.9,"rot":20},{"t":"petL","x":271.6,"y":381,"rot":20},{"t":"petA","x":373.4,"y":326,"rot":32},{"t":"ycf4","x":409.8,"y":282,"rot":42},{"t":"psaI","x":424,"y":267.5,"rot":42},{"t":"rbcL","x":465,"y":226.8,"rot":47},{"t":"trnM-CAU","x":534.8,"y":152,"rot":58},{"t":"trnF-GAA","x":635,"y":100.3,"rot":67},{"t":"trnL-UAA","x":655.4,"y":94.6,"rot":69},{"t":"trnS-GGA","x":721,"y":71,"rot":75},
{"t":"atpB","x":578.6,"y":276.3,"rot":55},{"t":"atpE","x":596.7,"y":263.2,"rot":57},{"t":"trnV-UAC","x":623,"y":267.5,"rot":59},{"t":"ndhC","x":667,"y":292.3,"rot":63},{"t":"ndhK","x":677,"y":283.5,"rot":65},{"t":"ndhJ","x":667,"y":226.9,"rot":65},{"t":"trnT-UGU","x":730.5,"y":218,"rot":72},{"t":"rps4","x":739,"y":196,"rot":74},{"t":"ycf3","x":788,"y":184.6,"rot":80},{"t":"psaA","x":852,"y":181.8,"rot":87},{"t":"psaB","x":906.8,"y":181.8,"rot":-87},{"t":"rps14","x":924,"y":244.3,"rot":-85},{"t":"trnfM-CAU","x":934,"y":266,"rot":-85},{"t":"trnR-UCU","x":950,"y":260.4,"rot":-85},{"t":"psbJ","x":497.7,"y":444.5,"rot":24},{"t":"psbL","x":488.7,"y":455.6,"rot":25},{"t":"psbF","x":483.7,"y":468.6,"rot":25},{"t":"psbE","x":477.7,"y":483.7,"rot":26},{"t":"trnW-CCA","x":485.7,"y":498.7,"rot":27},{"t":"trnP-UGG","x":480.7,"y":513.8,"rot":27}],
"regions":[{"t":"LSC","x":878,"y":326,"rot":0},{"t":"SSC","x":878,"y":1058.7,"rot":0},{"t":"IRA","x":1134,"y":953.3,"rot":-46},{"t":"IRB","x":622.2,"y":953.3,"rot":47}],
"categories":[{"group":"photosystem I"},{"group":"photosystem II"},{"group":"cytochrome b/f complex"},{"group":"ATP synthase"},{"group":"NADH dehydrogenase"},{"group":"RubisCO large subunit"},{"group":"photosystem assembly/stability factors"},{"group":"RNA polymerase"},{"group":"ribosomal proteins (SSU)"},{"group":"ribosomal proteins (LSU)"},{"group":"transfer RNAs"},{"group":"ribosomal RNAs"},{"group":"clpP, matK"},{"group":"other genes"},{"group":"hypothetical chloroplast reading frames (ycf)"},{"group":"ORFs"},{"group":"origin of replication"},{"group":"polycistronic transcripts"},{"group":"introns"}]
},
"layer":[
{"data":{"name":"disc"},"mark":{"type":"arc"},"encoding":{"x":{"datum":878,"type":"quantitative","scale":{"domain":[0,1560],"nice":false}},"y":{"datum":692.3,"type":"quantitative","scale":{"domain":[1572.5,0],"nice":false}},"theta":{"field":"a","type":"quantitative","stack":null,"scale":{"domain":[0,360],"range":[0,6.283185]}},"theta2":{"field":"b"},"radius":{"field":"r0","type":"quantitative","scale":{"type":"linear","domain":[0,600],"range":[0,1056]}},"radius2":{"field":"r1"},"fill":{"field":"group","type":"nominal","legend":null,"scale":{"domain":["PSI","PSII","psl","pa","cyt","pl","pn","ATP","NADH","Rub","RNAP","SSU","LSU","tRNA","tin","rRNA","r5","clp","ycf","light","dark","mid","tan","black","white"],"range":["#0a6632","#008a2e","#2ba24c","#008060","#669900","#8eb821","#a8a820","#80b800","#ffee00","#00a032","#d8102a","#e8ab6e","#b58340","#10288f","#5a4c8c","#ff0022","#a01030","#ff6600","#dcdce0","#dcdcdc","#b3b3b3","#a3a3a3","#e8ab6e","#000000","#ffffff"]}}}},
{"data":{"name":"gc"},"mark":{"type":"arc"},"encoding":{"x":{"datum":878,"type":"quantitative"},"y":{"datum":692.3,"type":"quantitative"},"theta":{"field":"a","type":"quantitative","stack":null},"theta2":{"field":"b"},"radius":{"field":"g","type":"quantitative"},"radius2":{"datum":330},"fill":{"condition":{"test":"datum.g>330","value":"#dcdcdc"},"value":"#b3b3b3"}}},
{"data":{"name":"rings"},"mark":{"type":"arc"},"encoding":{"x":{"datum":878,"type":"quantitative"},"y":{"datum":692.3,"type":"quantitative"},"theta":{"field":"a","type":"quantitative","stack":null},"theta2":{"field":"b"},"radius":{"field":"r0","type":"quantitative"},"radius2":{"field":"r1"},"fill":{"field":"group","type":"nominal","legend":null}}},
{"data":{"name":"genes"},"transform":[{"filter":"datum.side=='in'"}],"mark":{"type":"arc","stroke":"#33240a","strokeOpacity":0.8},"encoding":{"x":{"datum":878,"type":"quantitative"},"y":{"datum":692.3,"type":"quantitative"},"theta":{"field":"a","type":"quantitative","stack":null},"theta2":{"field":"b"},"radius":{"datum":527},"radius2":{"datum":566},"fill":{"field":"group","type":"nominal","legend":null},"strokeWidth":{"condition":{"test":"datum.b-datum.a<0.7","value":0},"value":2}}},
{"data":{"name":"genes"},"transform":[{"filter":"datum.side=='out'"}],"mark":{"type":"arc","stroke":"#33240a","strokeOpacity":0.8},"encoding":{"x":{"datum":878,"type":"quantitative"},"y":{"datum":692.3,"type":"quantitative"},"theta":{"field":"a","type":"quantitative","stack":null},"theta2":{"field":"b"},"radius":{"datum":568},"radius2":{"datum":603},"fill":{"field":"group","type":"nominal","legend":null},"strokeWidth":{"condition":{"test":"datum.b-datum.a<0.7","value":0},"value":2}}},
{"data":{"name":"outline"},"mark":{"type":"arc"},"encoding":{"x":{"datum":878,"type":"quantitative"},"y":{"datum":692.3,"type":"quantitative"},"theta":{"field":"a","type":"quantitative","stack":null},"theta2":{"field":"b"},"radius":{"field":"r0","type":"quantitative"},"radius2":{"field":"r1"},"fill":{"field":"group","type":"nominal","legend":null}}},
{"data":{"values":[{"x":808,"y":24.8,"x2":877,"y2":24.8}]},"mark":{"type":"rule","stroke":"#b5b5b5","strokeWidth":13,"strokeCap":"round"},"encoding":{"x":{"field":"x","type":"quantitative"},"y":{"field":"y","type":"quantitative"},"x2":{"field":"x2"},"y2":{"field":"y2"}}},
{"data":{"values":[{"x":796,"y":29.4}]},"mark":{"type":"point","filled":true,"opacity":1,"fill":"#b5b5b5","stroke":null,"size":2916,"shape":"M-1.4,0L1,-0.78L1,0.78Z"},"encoding":{"x":{"field":"x","type":"quantitative"},"y":{"field":"y","type":"quantitative"}}},
{"data":{"values":[{"x":879,"y":223,"x2":937,"y2":223}]},"mark":{"type":"rule","stroke":"#a8a8a8","strokeOpacity":0.8,"strokeWidth":13},"encoding":{"x":{"field":"x","type":"quantitative"},"y":{"field":"y","type":"quantitative"},"x2":{"field":"x2"},"y2":{"field":"y2"}}},
{"data":{"values":[{"x":950.3,"y":229}]},"mark":{"type":"point","filled":true,"opacity":0.8,"fill":"#a8a8a8","stroke":null,"size":2916,"shape":"M1.4,0L-1,-0.78L-1,0.78Z"},"encoding":{"x":{"field":"x","type":"quantitative"},"y":{"field":"y","type":"quantitative"}}},
{"data":{"name":"leaders"},"mark":{"type":"rule","stroke":"#555555","strokeWidth":1.6},"encoding":{"x":{"field":"x","type":"quantitative"},"y":{"field":"y","type":"quantitative"},"x2":{"field":"x2"},"y2":{"field":"y2"}}},
{"data":{"name":"labels"},"mark":{"type":"text","font":"Liberation Sans","fontSize":26,"align":"center","baseline":"middle","fill":"#111111"},"encoding":{"x":{"field":"x","type":"quantitative"},"y":{"field":"y","type":"quantitative"},"text":{"field":"t"},"angle":{"field":"rot","type":"quantitative","scale":null}}},
{"data":{"name":"regions"},"mark":{"type":"text","font":"Liberation Sans","fontSize":29,"align":"center","baseline":"middle","fill":"#111111"},"encoding":{"x":{"field":"x","type":"quantitative"},"y":{"field":"y","type":"quantitative"},"text":{"field":"t"},"angle":{"field":"rot","type":"quantitative","scale":null}}},
{"data":{"values":[{"t":"Indosasa lipoensis","x":875,"y":662.3}]},"mark":{"type":"text","font":"Liberation Serif","fontStyle":"italic","fontSize":96,"align":"center","baseline":"middle","fill":"#000000"},"encoding":{"x":{"field":"x","type":"quantitative"},"y":{"field":"y","type":"quantitative"},"text":{"field":"t"}}},
{"data":{"values":[{"t":"139,655 bp","x":878,"y":748.6}]},"mark":{"type":"text","font":"Liberation Sans","fontSize":56,"align":"center","baseline":"middle","fill":"#000000"},"encoding":{"x":{"field":"x","type":"quantitative"},"y":{"field":"y","type":"quantitative"},"text":{"field":"t"}}},
{"data":{"name":"categories"},"mark":{"type":"point","filled":true,"opacity":0},"encoding":{"x":{"datum":878,"type":"quantitative"},"y":{"datum":692.3,"type":"quantitative"},"color":{"field":"group","type":"nominal","scale":{"domain":["photosystem I","photosystem II","cytochrome b/f complex","ATP synthase","NADH dehydrogenase","RubisCO large subunit","photosystem assembly/stability factors","RNA polymerase","ribosomal proteins (SSU)","ribosomal proteins (LSU)","transfer RNAs","ribosomal RNAs","clpP, matK","other genes","hypothetical chloroplast reading frames (ycf)","ORFs","origin of replication","polycistronic transcripts","introns"],"range":["#003d20","#006020","#6b8e00","#7fbf00","#ffee00","#007a20","#f5f8cc","#a50e1e","#e8ab6e","#8a5a20","#0a1a66","#c80010","#000000","#8a1a8a","#dcdcdc","#20b8b0","#ff8080","#c000c0","#ffffff"]},"legend":{"orient":"none","legendX":22,"legendY":2011,"title":null,"symbolType":"square","symbolSize":900,"symbolOpacity":1,"symbolStrokeColor":"#222222","symbolStrokeWidth":2,"labelFont":"Liberation Sans","labelFontSize":30.7,"labelColor":"#111111","labelOffset":10,"rowPadding":0.9,"labelLimit":900,"symbolLimit":30}}}}
]}
